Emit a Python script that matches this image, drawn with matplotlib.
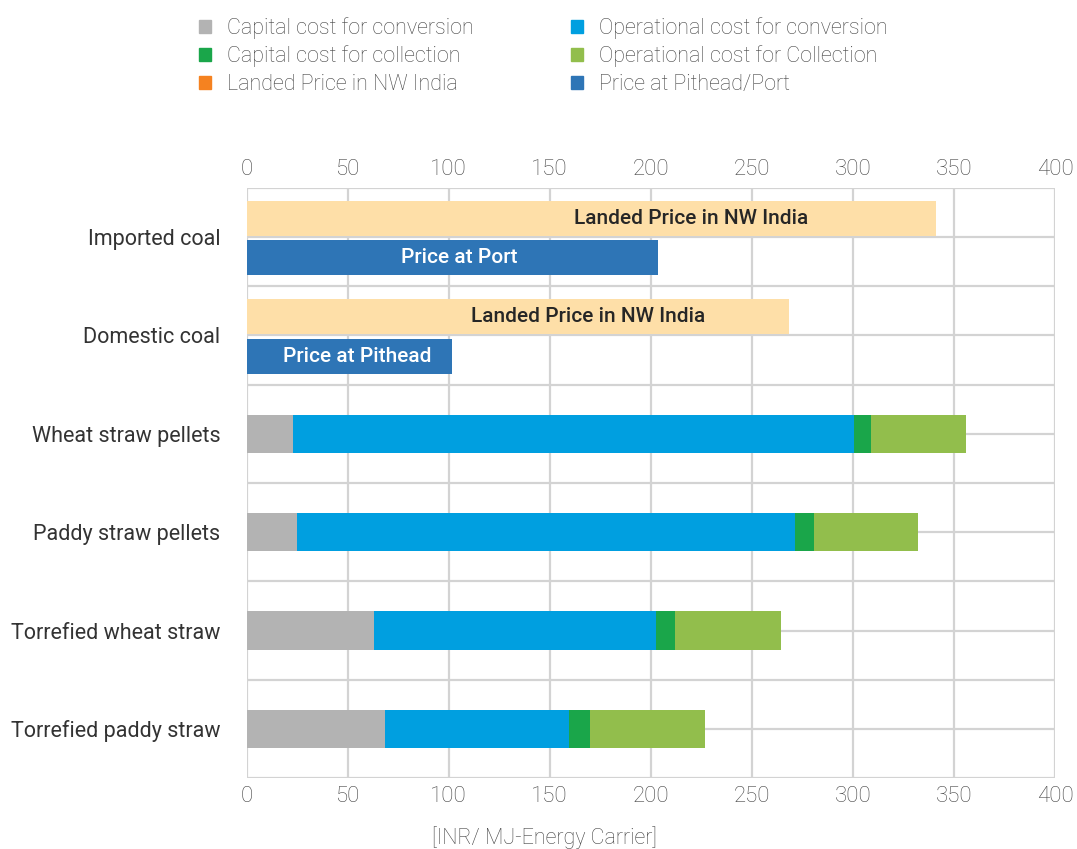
import matplotlib
matplotlib.use("Agg")
import matplotlib.pyplot as plt
from matplotlib.patches import Patch
import numpy as np

plt.rcParams['font.family'] = ['Roboto', 'DejaVu Sans']

# Categories (top to bottom)
categories = ["Imported coal", "Domestic coal", "Wheat straw pellets",
              "Paddy straw pellets", "Torrefied wheat straw", "Torrefied paddy straw"]

# Coal prices [INR/ MJ-Energy Carrier]
coal_rows = [0, 1]
landed_price = [341, 268.5]
pithead_price = [203.5, 101.5]
pithead_labels = ["Price at Port", "Price at Pithead"]
landed_label_x = [220, 169]
pithead_label_x = [105, 55]

# Biomass cost components
bio_rows = [2, 3, 4, 5]
capital_conversion = [23.2, 25.1, 63.2, 68.5]
operational_conversion = [277.3, 246.3, 139.4, 90.8]
capital_collection = [8.3, 9.4, 9.4, 10.4]
operational_collection = [47.3, 51.4, 52.4, 57.1]

x_ticks = [0, 50, 100, 150, 200, 250, 300, 350, 400]

c_grey = "#b3b3b3"
c_opconv = "#009fe0"
c_capcoll = "#1aa64a"
c_opcoll = "#92be4c"
c_landed = "#fedfa8"
c_landed_leg = "#f58220"
c_price = "#2e75b6"
grid_c = "#d3d3d3"
txt_c = "#444444"


def main():
    fig = plt.figure(figsize=(10.77, 8.49), dpi=100)
    ax = fig.add_axes([0.2289, 0.0836, 0.7507, 0.695])

    # grid at category centres and boundaries
    for y in np.arange(-0.5, 5.51, 0.5):
        ax.axhline(y, color=grid_c, lw=1.6, zorder=0)
    for x in x_ticks:
        ax.axvline(x, color=grid_c, lw=1.6, zorder=0)

    # coal bars
    rows = np.array(coal_rows)
    ax.barh(rows - 0.19, landed_price, height=0.355, color=c_landed, zorder=2)
    ax.barh(rows + 0.21, pithead_price, height=0.355, color=c_price, zorder=2)
    for i, r in enumerate(coal_rows):
        ax.text(landed_label_x[i], r - 0.19, "Landed Price in NW India",
                ha="center", va="center", fontsize=15, fontweight="medium",
                color="#262626", zorder=3)
        ax.text(pithead_label_x[i], r + 0.21, pithead_labels[i],
                ha="center", va="center", fontsize=15, fontweight="medium",
                color="white", zorder=3)

    # biomass stacked bars
    left = np.zeros(len(bio_rows))
    for vals, col in [(capital_conversion, c_grey), (operational_conversion, c_opconv),
                      (capital_collection, c_capcoll), (operational_collection, c_opcoll)]:
        ax.barh(bio_rows, vals, left=left, height=0.39, color=col, zorder=2)
        left = left + np.array(vals)

    ax.set_xlim(0, 400)
    ax.set_ylim(5.5, -0.5)
    ax.set_yticks(range(len(categories)))
    ax.set_yticklabels(categories, fontsize=15.5, color="#333333")
    ax.set_xticks(x_ticks)
    ax.set_xticklabels([str(t) for t in x_ticks], fontsize=16,
                       color=txt_c, fontweight="light")
    ax.tick_params(axis="x", top=True, labeltop=True, length=0, pad=6)
    ax.tick_params(axis="y", length=0, pad=19)
    for s in ax.spines.values():
        s.set_visible(False)

    fig.text(544 / 1077, 1 - 838 / 849, "[INR/ MJ-Energy Carrier]", ha="center",
             va="center", fontsize=15.5, color=txt_c, fontweight="light")

    handles = [Patch(color=c_grey), Patch(color=c_capcoll), Patch(color=c_landed_leg),
               Patch(color=c_opconv), Patch(color=c_opcoll), Patch(color=c_price)]
    labels = ["Capital cost for conversion", "Capital cost for collection",
              "Landed Price in NW India", "Operational cost for conversion",
              "Operational cost for Collection", "Price at Pithead/Port"]
    leg = fig.legend(handles, labels, ncol=2, loc="upper left",
                     bbox_to_anchor=(0.167, 1.0025), frameon=False, fontsize=15.5,
                     handlelength=0.55, handleheight=0.55, handletextpad=0.75,
                     columnspacing=4.5, labelspacing=0.3)
    for t in leg.get_texts():
        t.set_color(txt_c)
        t.set_fontweight("light")

    fig.savefig("out.png", dpi=100)


if __name__ == "__main__":
    main()
